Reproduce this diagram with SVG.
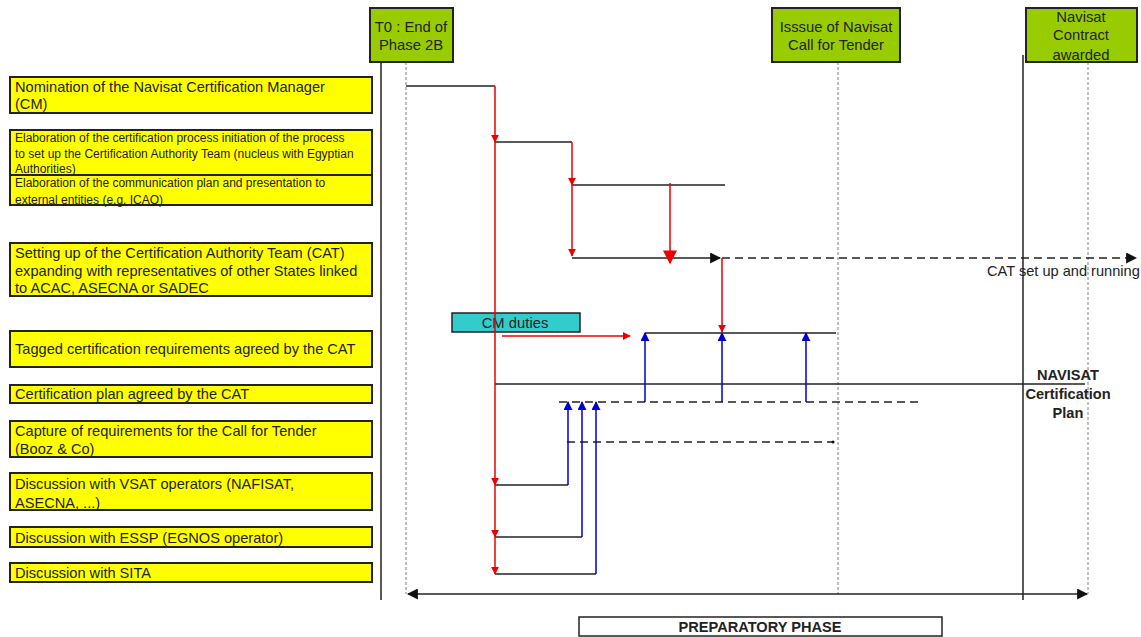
<svg xmlns="http://www.w3.org/2000/svg" width="1141" height="637" viewBox="0 0 1141 637">
<style>
.task{fill:#ffff00;stroke:#222;stroke-width:2}
.ms{fill:#99cc00;stroke:#222;stroke-width:2}
.t{font-family:"Liberation Sans",Arial,sans-serif;font-size:14.6px;fill:#222}
.ts{font-family:"Liberation Sans",Arial,sans-serif;font-size:12px;fill:#222}
.tc{font-family:"Liberation Sans",Arial,sans-serif;font-size:14.8px;fill:#222;text-anchor:middle}
.tb{font-family:"Liberation Sans",Arial,sans-serif;font-size:14.6px;font-weight:bold;fill:#222;text-anchor:middle}
.blk{stroke:#222;stroke-width:1.5;fill:none}
.dash{stroke:#222;stroke-width:1.5;fill:none;stroke-dasharray:8,5}
.dot{stroke:#aaa;stroke-width:1.5;fill:none;stroke-dasharray:3,2}
.red{stroke:#e00;stroke-width:1.5;fill:none}
.blue{stroke:#00c;stroke-width:1.5;fill:none}
</style>
<defs>
<marker id="ar" viewBox="0 0 10 10" refX="9" refY="5" markerWidth="8" markerHeight="8" markerUnits="userSpaceOnUse" orient="auto"><path d="M0,0L10,5L0,10z" fill="#e00"/></marker>
<marker id="arL" viewBox="0 0 10 10" refX="9" refY="5" markerWidth="14" markerHeight="14" markerUnits="userSpaceOnUse" orient="auto"><path d="M0,0L10,5L0,10z" fill="#e00"/></marker>
<marker id="ab" viewBox="0 0 10 10" refX="9" refY="5" markerWidth="9" markerHeight="9" markerUnits="userSpaceOnUse" orient="auto"><path d="M0,0L10,5L0,10z" fill="#00c"/></marker>
<marker id="ak" viewBox="0 0 10 10" refX="9" refY="5" markerWidth="11" markerHeight="11" markerUnits="userSpaceOnUse" orient="auto"><path d="M0,0L10,5L0,10z" fill="#111"/></marker>
<marker id="aks" viewBox="0 0 10 10" refX="1" refY="5" markerWidth="11" markerHeight="11" markerUnits="userSpaceOnUse" orient="auto"><path d="M10,0L0,5L10,10z" fill="#111"/></marker>
</defs>

<!-- timeline axes -->
<g id="axes">
<line class="blk" x1="381" y1="57" x2="381" y2="600"/>
<line class="blk" x1="1023" y1="55" x2="1023" y2="600"/>
<line class="dot" x1="406" y1="62" x2="406" y2="594"/>
<line class="dot" x1="838" y1="62" x2="838" y2="594"/>
<line class="dot" x1="1088" y1="62" x2="1088" y2="594"/>
</g>

<!-- milestones -->
<g id="ms-t0"><rect class="ms" x="370" y="8" width="83" height="54"/><text class="tc" x="411" y="32">T0 : End of</text><text class="tc" x="411" y="50">Phase 2B</text></g>
<g id="ms-cft"><rect class="ms" x="772" y="8" width="128" height="54"/><text class="tc" x="836" y="32">Isssue of Navisat</text><text class="tc" x="836" y="50">Call for Tender</text></g>
<g id="ms-contract"><rect class="ms" x="1026" y="8" width="111" height="54"/><text class="tc" x="1081" y="22">Navisat</text><text class="tc" x="1081" y="40">Contract</text><text class="tc" x="1081" y="60">awarded</text></g>

<!-- tasks -->
<g id="task1"><rect class="task" x="10" y="77" width="362" height="36"/><text class="t" x="15" y="92">Nomination of the Navisat Certification Manager</text><text class="t" x="15" y="109">(CM)</text></g>
<g id="task2"><rect class="task" x="10" y="130" width="362" height="45"/><text class="ts" x="15" y="142">Elaboration of the certification process initiation of the process</text><text class="ts" x="15" y="158">to set up the Certification Authority Team (nucleus with Egyptian</text><text class="ts" x="15" y="173">Authorities)</text></g>
<g id="task3"><rect class="task" x="10" y="175" width="362" height="30"/><text class="ts" x="15" y="187">Elaboration of the communication plan and presentation to</text><text class="ts" x="15" y="204">external entities (e.g. ICAO)</text></g>
<g id="task4"><rect class="task" x="10" y="243" width="362" height="53"/><text class="t" x="15" y="258">Setting up of the Certification Authority Team (CAT)</text><text class="t" x="15" y="276">expanding with representatives of other States linked</text><text class="t" x="15" y="293">to ACAC, ASECNA or SADEC</text></g>
<g id="task5"><rect class="task" x="10" y="331" width="362" height="36"/><text class="t" x="15" y="354">Tagged certification requirements agreed by the CAT</text></g>
<g id="task6"><rect class="task" x="10" y="385" width="362" height="18"/><text class="t" x="15" y="399">Certification plan agreed by the CAT</text></g>
<g id="task7"><rect class="task" x="10" y="421" width="362" height="36"/><text class="t" x="15" y="436">Capture of requirements for the Call for Tender</text><text class="t" x="15" y="454">(Booz &amp; Co)</text></g>
<g id="task8"><rect class="task" x="10" y="473" width="362" height="37"/><text class="t" x="15" y="489">Discussion with VSAT operators (NAFISAT,</text><text class="t" x="15" y="508">ASECNA, ...)</text></g>
<g id="task9"><rect class="task" x="10" y="527" width="362" height="20"/><text class="t" x="15" y="543">Discussion with ESSP (EGNOS operator)</text></g>
<g id="task10"><rect class="task" x="10" y="563" width="362" height="19"/><text class="t" x="15" y="578">Discussion with SITA</text></g>

<g id="cm-duties"><rect x="452" y="313" width="128" height="19" fill="#33cccc" stroke="#222" stroke-width="1.5"/><text class="tc" x="515" y="328">CM duties</text></g>

<!-- connectors -->
<g id="connectors">
<polyline class="blk" points="406,86 495,86"/>
<polyline class="blk" points="495,142 572,142"/>
<polyline class="blk" points="572,185 725,185"/>
<line class="blk" x1="572" y1="258" x2="720" y2="258" marker-end="url(#ak)"/>
<line class="dash" x1="722" y1="258" x2="1136" y2="258" marker-end="url(#ak)"/>
<line class="blk" x1="645" y1="333" x2="836" y2="333"/>
<line class="blk" x1="495" y1="384" x2="1085" y2="384"/>
<line class="dash" x1="559" y1="402" x2="918" y2="402"/>
<line class="dash" x1="567" y1="442" x2="833" y2="442"/>
<circle cx="833" cy="442" r="1.5" fill="#111"/>
<line class="blk" x1="495" y1="485" x2="568" y2="485"/>
<line class="blk" x1="495" y1="537" x2="582" y2="537"/>
<line class="blk" x1="495" y1="574" x2="596" y2="574"/>
<line class="blk" x1="408" y1="594" x2="1087" y2="594" marker-start="url(#aks)" marker-end="url(#ak)"/>

<line class="red" x1="495" y1="86" x2="495" y2="142" marker-end="url(#ar)"/>
<line class="red" x1="495" y1="142" x2="495" y2="485" marker-end="url(#ar)"/>
<line class="red" x1="495" y1="485" x2="495" y2="537" marker-end="url(#ar)"/>
<line class="red" x1="495" y1="537" x2="495" y2="574" marker-end="url(#ar)"/>
<line class="red" x1="572" y1="142" x2="572" y2="185" marker-end="url(#ar)"/>
<line class="red" x1="572" y1="185" x2="572" y2="256" marker-end="url(#ar)"/>
<line class="red" x1="670" y1="183" x2="670" y2="263" marker-end="url(#arL)"/>
<line class="red" x1="722" y1="258" x2="722" y2="332" marker-end="url(#ar)"/>
<line class="red" x1="502" y1="336" x2="630" y2="336" marker-end="url(#ar)"/>

<line class="blue" x1="645" y1="402" x2="645" y2="333" marker-end="url(#ab)"/>
<line class="blue" x1="722" y1="402" x2="722" y2="333" marker-end="url(#ab)"/>
<line class="blue" x1="806" y1="402" x2="806" y2="333" marker-end="url(#ab)"/>
<polyline class="blue" points="568,485 568,402" marker-end="url(#ab)"/>
<polyline class="blue" points="582,537 582,402" marker-end="url(#ab)"/>
<polyline class="blue" points="596,574 596,402" marker-end="url(#ab)"/>
</g>

<g id="labels">
<text class="t" x="987" y="276">CAT set up and running</text>
<text class="tb" x="1068" y="380">NAVISAT</text>
<text class="tb" x="1068" y="399">Certification</text>
<text class="tb" x="1068" y="418">Plan</text>
</g>

<g id="phase"><rect x="579" y="617" width="363" height="19" fill="#fff" stroke="#222" stroke-width="1.5"/><text class="tb" x="760" y="632">PREPARATORY PHASE</text></g>
</svg>
